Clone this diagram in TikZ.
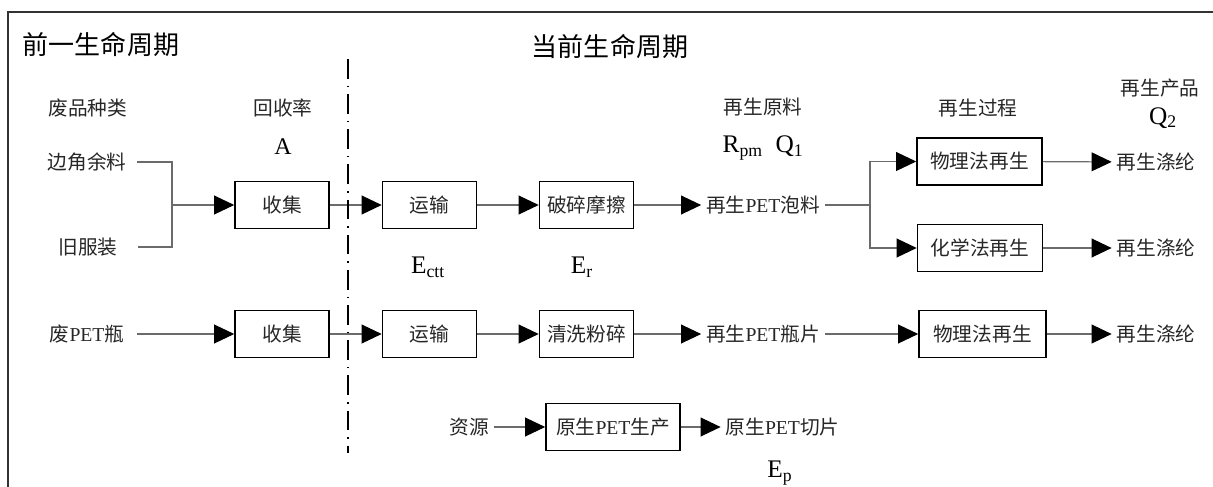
\documentclass[tikz,border=0pt]{standalone}
\usepackage{fontspec}
\setmainfont{Liberation Serif}
\newfontfamily\cjk{Noto Sans CJK SC}
\usetikzlibrary{arrows.meta}

\definecolor{ink}{rgb}{0.15,0.15,0.15}
\definecolor{wire}{rgb}{0.42,0.42,0.42}
\newcommand{\PET}{{\rmfamily PET}}
\newcommand{\unitpx}{0.025cm}

\begin{document}
\begin{tikzpicture}[x = \unitpx, y = -\unitpx,
  txt/.style = {font = \cjk\fontsize{14}{16}\selectfont, text = ink},
  head/.style = {font = \cjk\fontsize{18.5}{20}\selectfont, text = black},
  col/.style = {txt, minimum width = 2.5cm, inner sep = 0pt},
  sym/.style = {font = \fontsize{18}{20}\selectfont, text = black},
  box/.style = {txt, draw = black, line width = 1.1pt, inner sep = 0pt, minimum width = 2.35cm, minimum height = 1.175cm},
  wire/.style = {draw = wire, line width = 0.8pt},
  flow/.style = {wire, -{Triangle[length = 0.5cm, width = 0.47cm, color = black]}}]
\useasboundingbox (0,0) rectangle (1213,487);

\draw [line width = 1.2pt, draw = black!80] (8,487) -- (8,12) -- (1213,12);

\node [head] (t1) at (101,45) {前一生命周期};
\node [head] (t2) at (610,47) {当前生命周期};

\node [txt] (h1) at (88,108) {废品种类};
\node [txt] (h2) at (283,108) {回收率};
\node [sym, font = \fontsize{17}{19}\selectfont] (hA) at (283,147) {A};
\node [txt] (h3) at (763,107) {再生原料};
\node [sym] (hR) at (763,148) {R\textsubscript{pm}\hspace{9pt}Q\textsubscript{1}};
\node [txt] (h4) at (978,108) {再生过程};
\node [txt] (h5) at (1160,88) {再生产品};
\node [sym] (hQ) at (1163,118) {Q\textsubscript{2}};

\node [col] (w1) at (87,162) {边角余料};
\node [col] (w2) at (88,247) {旧服装};
\node [col] (w3) at (87,334) {废\PET 瓶};
\coordinate (j1) at (172,205);

\node [box] (c1) at (282,205) {收集};
\node [box] (m1) at (429.5,205) {运输};
\node [box] (p1) at (586.5,205) {破碎摩擦};
\node [txt] (r1) at (763,205) {再生\PET 泡料};
\coordinate (j2) at (870,205);
\node [box, minimum width = 3.125cm] (g1) at (979.5,161.5) {物理法再生};
\node [box, minimum width = 3.125cm] (g2) at (980,248) {化学法再生};
\node [txt] (o1) at (1156,162) {再生涤纶};
\node [txt] (o2) at (1156,248) {再生涤纶};

\node [box] (c2) at (282,334) {收集};
\node [box] (m2) at (429.5,334) {运输};
\node [box] (p2) at (586.5,334) {清洗粉碎};
\node [txt] (r2) at (763,334) {再生\PET 瓶片};
\node [box, minimum width = 3.175cm] (g3) at (982.5,334) {物理法再生};
\node [txt] (o3) at (1156,334) {再生涤纶};

\node [txt] (s1) at (469,427) {资源};
\node [box, minimum width = 3.35cm] (b1) at (613,427) {原生\PET 生产};
\node [txt] (v1) at (782.5,427) {原生\PET 切片};

\node [sym] (e1) at (428,267) {E\textsubscript{ctt}};
\node [sym] (e2) at (582,267) {E\textsubscript{r}};
\node [sym] (e3) at (780,473) {E\textsubscript{p}};

\draw [wire] (w1.east) -| (j1);
\draw [wire] (w2.east) -| (j1);
\draw [flow] (j1) -- (c1);
\draw [flow] (c1) -- (m1);
\draw [flow] (m1) -- (p1);
\draw [flow] (p1) -- (r1);
\draw [wire] (r1) -- (j2);
\draw [flow] (j2) |- (g1);
\draw [flow] (j2) |- (g2);
\draw [flow] (g1) -- (o1);
\draw [flow] (g2) -- (o2);
\draw [flow] (w3) -- (c2);
\draw [flow] (c2) -- (m2);
\draw [flow] (m2) -- (p2);
\draw [flow] (p2) -- (r2);
\draw [flow] (r2) -- (g3);
\draw [flow] (g3) -- (o3);
\draw [flow] (s1) -- (b1);
\draw [flow] (b1) -- (v1);

\coordinate (d1) at (348,59);
\coordinate (d2) at (348,453);
\draw [line width = 1.3pt, dash pattern = on 14pt off 5pt on 1pt off 5pt] (d1) -- (d2);
\end{tikzpicture}
\end{document}
